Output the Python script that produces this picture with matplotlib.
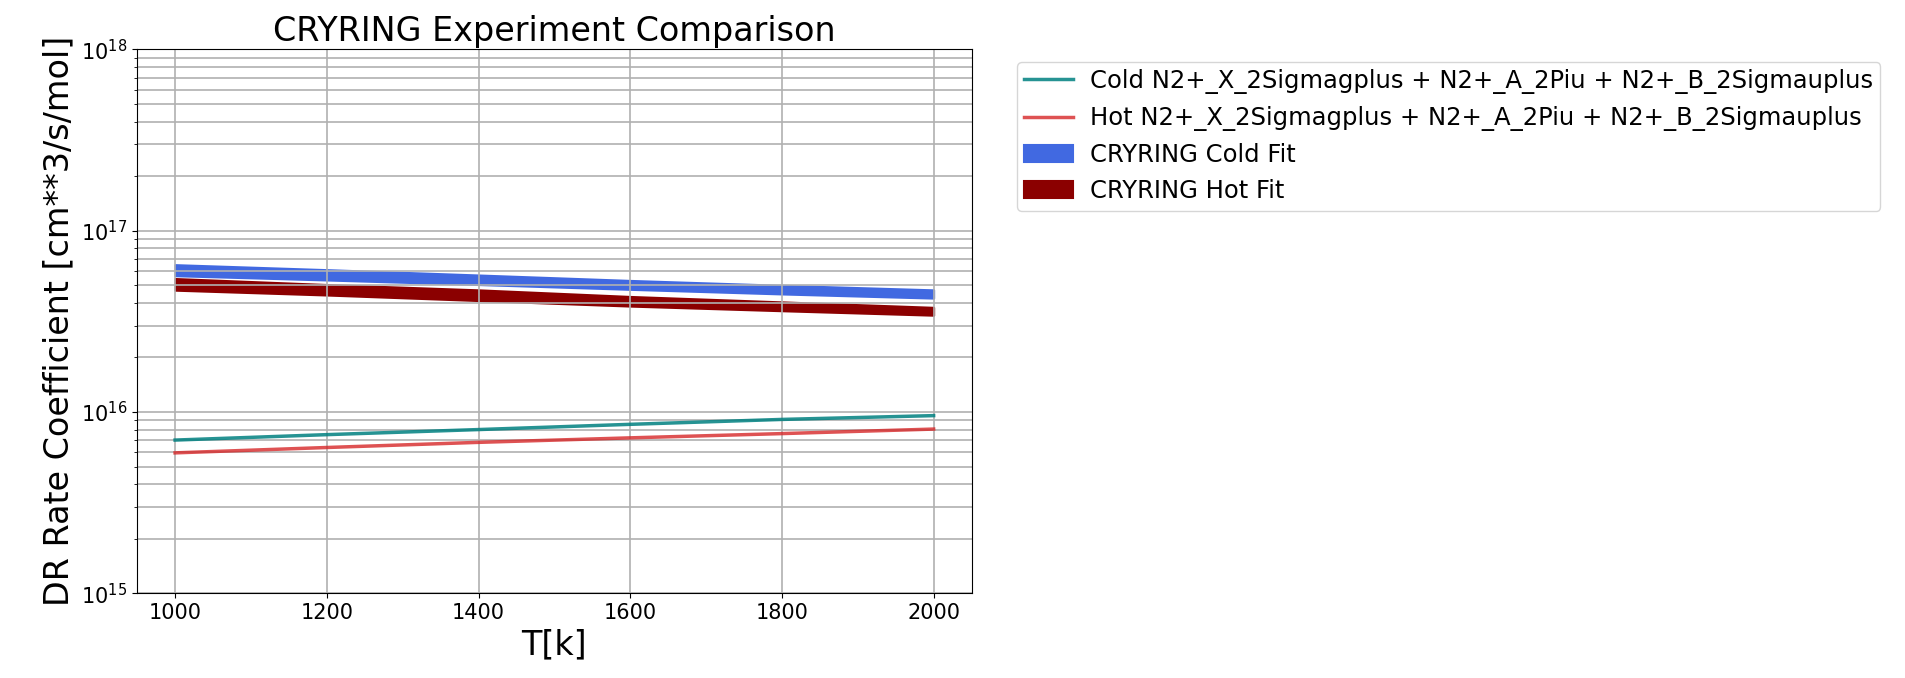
import matplotlib.pyplot as plt
import numpy as np

# Temperatures [K]
T = np.array([1000, 1200, 1400, 1600, 1800, 2000])

# Model DR rate coefficients summed over the three N2+ states
cold_sum = np.array([7.00e15, 7.50e15, 8.00e15, 8.55e15, 9.10e15, 9.55e15])
hot_sum = np.array([5.95e15, 6.37e15, 6.80e15, 7.20e15, 7.60e15, 8.05e15])

# CRYRING fit bands (lower / upper)
cold_fit_lo = np.array([5.65e16, 5.35e16, 5.05e16, 4.75e16, 4.48e16, 4.25e16])
cold_fit_hi = np.array([6.50e16, 6.10e16, 5.70e16, 5.32e16, 5.00e16, 4.72e16])
hot_fit_lo = np.array([4.70e16, 4.42e16, 4.12e16, 3.84e16, 3.62e16, 3.42e16])
hot_fit_hi = np.array([5.45e16, 5.05e16, 4.72e16, 4.34e16, 4.05e16, 3.78e16])

label_sum = 'N2+_X_2Sigmagplus + N2+_A_2Piu + N2+_B_2Sigmauplus'

fig = plt.figure(figsize=(19.05, 6.78), dpi=100)
ax = fig.add_axes([0.072, 0.125, 0.438, 0.802])

ax.plot(T, cold_sum, color='teal', lw=2.5, alpha=0.85, label='Cold ' + label_sum)
ax.plot(T, hot_sum, color='tab:red', lw=2.5, alpha=0.8, label='Hot ' + label_sum)
ax.fill_between(T, cold_fit_lo, cold_fit_hi, color='royalblue', lw=1.5,
                label='CRYRING Cold Fit')
ax.fill_between(T, hot_fit_lo, hot_fit_hi, color='darkred', lw=1.5,
                label='CRYRING Hot Fit')

ax.set_yscale('log')
ax.set_ylim(1e15, 1e18)
ax.grid(True, which='both', color='#b0b0b0', lw=1.2)
ax.tick_params(labelsize=15)
ax.set_xlabel('T[k]', fontsize=24)
ax.set_ylabel('DR Rate Coefficient [cm**3/s/mol]', fontsize=24)
ax.set_title('CRYRING Experiment Comparison', fontsize=24)
ax.legend(bbox_to_anchor=(1.04, 1), loc='upper left', fontsize=17.5,
          labelspacing=0.5, handletextpad=0.7, borderpad=0.3)

fig.savefig('out.png')
